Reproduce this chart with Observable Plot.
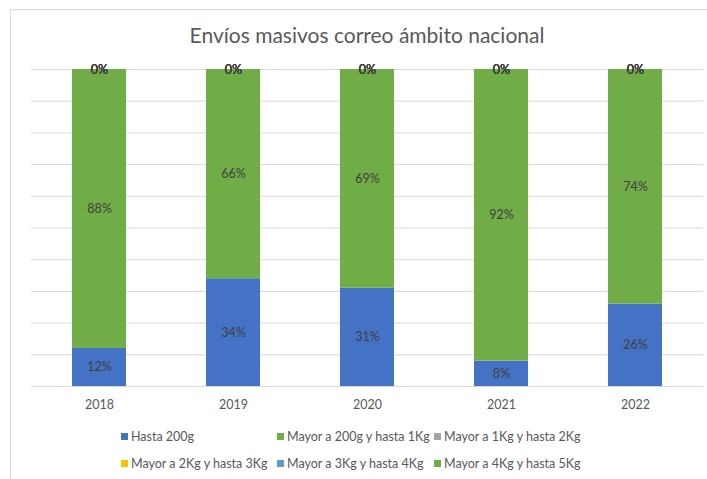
<!DOCTYPE html>
<html>
<head>
<meta charset="utf-8">
<script src="https://cdn.jsdelivr.net/npm/d3@7"></script>
<script src="https://cdn.jsdelivr.net/npm/@observablehq/plot@0.6"></script>
<style>
  body { margin: 0; background: #fff; font-family: Lato, "Open Sans", sans-serif; }
  #frame { position: absolute; left: 10px; top: 9px; width: 720px; height: 490px; border: 1px solid #d9d9d9; box-sizing: border-box; }
  #title { position: absolute; left: 0; width: 734px; top: 22px; text-align: center; font-size: 21px; color: #595959; }
  #chart { position: absolute; left: 0; top: 0; }
  #legend { position: absolute; left: 0; top: 429px; width: 707px; font-size: 12.5px; color: #595959; }
  .item { position: absolute; white-space: nowrap; }
  .sw { display: inline-block; width: 7px; height: 7px; margin-right: 3px; vertical-align: 1px; }
</style>
</head>
<body>
<div id="frame"></div>
<div id="title">Envíos masivos correo ámbito nacional</div>
<div id="chart"></div>
<div id="legend"></div>
<script>
const years = ["2018", "2019", "2020", "2021", "2022"];
const seriesNames = [
  "Hasta 200g",
  "Mayor a 200g y hasta 1Kg",
  "Mayor a 1Kg y hasta 2Kg",
  "Mayor a 2Kg y hasta 3Kg",
  "Mayor a 3Kg y hasta 4Kg",
  "Mayor a 4Kg y hasta 5Kg"
];
const hasta200g = [12, 34, 31, 8, 26];
const de200gA1Kg = [88, 66, 69, 92, 74];
const de1KgA2Kg = [0, 0, 0, 0, 0];
const de2KgA3Kg = [0, 0, 0, 0, 0];
const de3KgA4Kg = [0, 0, 0, 0, 0];
const de4KgA5Kg = [0, 0, 0, 0, 0];
const seriesColors = ["#4472C4", "#70AD47", "#A5A5A5", "#FFC000", "#5B9BD5", "#70AD47"];
const gridTicks = [0.1, 0.2, 0.3, 0.4, 0.5, 0.6, 0.7, 0.8, 0.9, 1.0];

const allSeries = [hasta200g, de200gA1Kg, de1KgA2Kg, de2KgA3Kg, de3KgA4Kg, de4KgA5Kg];
const data = [];
seriesNames.forEach((s, si) => {
  years.forEach((y, yi) => {
    data.push({year: y, series: s, value: allSeries[si][yi] / 100});
  });
});

const plot = Plot.plot({
  width: 707,
  height: 420,
  marginLeft: 31,
  marginRight: 4,
  marginTop: 69,
  marginBottom: 34,
  style: {fontFamily: "Lato, 'Open Sans', sans-serif", background: "transparent"},
  x: {domain: years, paddingInner: 0.6, paddingOuter: 0.3, label: null},
  y: {domain: [0, 1], axis: null},
  color: {domain: seriesNames, range: seriesColors},
  marks: [
    Plot.ruleY(gridTicks, {stroke: "#d9d9d9", strokeWidth: 1}),
    Plot.barY(data, Plot.stackY({x: "year", y: "value", fill: "series", order: null})),
    Plot.ruleY([0], {stroke: "#d9d9d9", strokeWidth: 1}),
    Plot.text(data, Plot.stackY({
      x: "year", y: "value", z: "series", order: null,
      text: d => Math.round(d.value * 100) + "%",
      fill: "#404040", fontSize: 12.5
    })),
    Plot.axisX({tickSize: 0, tickPadding: 14, fontSize: 12.5, color: "#595959", label: null})
  ]
});
document.getElementById("chart").appendChild(plot);

const legendPos = [
  [121, 0], [277, 0], [434, 0],
  [121, 27], [277, 27], [434, 27]
];
const legend = document.getElementById("legend");
seriesNames.forEach((s, i) => {
  const it = document.createElement("div");
  it.className = "item";
  it.style.left = legendPos[i][0] + "px";
  it.style.top = legendPos[i][1] + "px";
  it.innerHTML = `<span class="sw" style="background:${seriesColors[i]}"></span>${s}`;
  legend.appendChild(it);
});
</script>
</body>
</html>
